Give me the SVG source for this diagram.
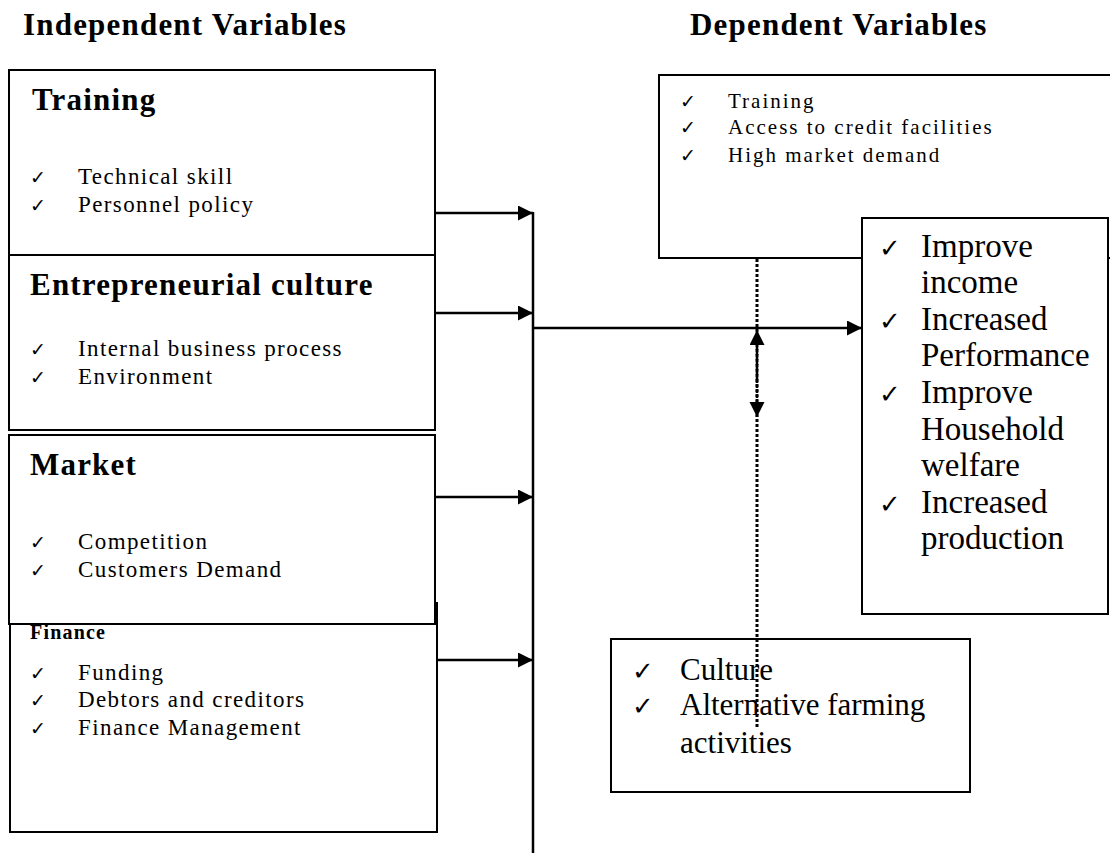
<svg xmlns="http://www.w3.org/2000/svg" width="1110" height="853" viewBox="0 0 1110 853">
<style>
.box{fill:#fff;stroke:#000;stroke-width:2}
.hdr{font-family:'Liberation Serif',serif;font-weight:bold;font-size:31px;letter-spacing:1.2px;fill:#000}
.title{font-family:'Liberation Serif',serif;font-weight:bold;font-size:31px;letter-spacing:1.2px;fill:#000}
.ftitle{font-family:'Liberation Serif',serif;font-weight:bold;font-size:20px;letter-spacing:1.2px;fill:#000}
.item{font-family:'Liberation Serif',serif;font-size:23px;letter-spacing:1.4px;fill:#000}
.sitem{font-family:'Liberation Serif',serif;font-size:21px;letter-spacing:2px;fill:#000}
.big{font-family:'Liberation Serif',serif;font-size:33px;fill:#000}
.chk{font-family:'DejaVu Sans',sans-serif;font-size:19px;fill:#000}
.bchk{font-family:'DejaVu Sans',sans-serif;font-size:26px;fill:#000}
.ln{stroke:#000;stroke-width:2.5;fill:none}
.dot{stroke:#000;stroke-width:3;stroke-dasharray:3 2;fill:none}
</style>
<defs>
<marker id="ah" markerUnits="userSpaceOnUse" markerWidth="16" markerHeight="16" refX="15" refY="7.5" orient="auto">
<path d="M0,0 L15,7.5 L0,15 z" fill="#000"/>
</marker>
</defs>

<text class="hdr" x="23" y="35">Independent Variables</text>
<text class="hdr" x="690" y="35">Dependent Variables</text>

<g id="training">
<rect class="box" x="9" y="70" width="426" height="185"/>
<text class="title" x="32" y="110">Training</text>
<text class="chk" x="30" y="184">✓</text><text class="item" x="78" y="184">Technical skill</text>
<text class="chk" x="30" y="212">✓</text><text class="item" x="78" y="212">Personnel policy</text>
</g>

<g id="entrepreneurial">
<rect class="box" x="9" y="255" width="426" height="175"/>
<text class="title" x="30" y="295">Entrepreneurial culture</text>
<text class="chk" x="30" y="356">✓</text><text class="item" x="78" y="356">Internal business process</text>
<text class="chk" x="30" y="384">✓</text><text class="item" x="78" y="384">Environment</text>
</g>

<g id="finance">
<rect class="box" x="10" y="603" width="427" height="229"/>
<text class="ftitle" x="30" y="639">Finance</text>
<text class="chk" x="30" y="680">✓</text><text class="item" x="78" y="680">Funding</text>
<text class="chk" x="30" y="707">✓</text><text class="item" x="78" y="707">Debtors and creditors</text>
<text class="chk" x="30" y="735">✓</text><text class="item" x="78" y="735">Finance Management</text>
</g>

<g id="market">
<rect class="box" x="9" y="435" width="426" height="189"/>
<text class="title" x="30" y="475">Market</text>
<text class="chk" x="30" y="549">✓</text><text class="item" x="78" y="549">Competition</text>
<text class="chk" x="30" y="577">✓</text><text class="item" x="78" y="577">Customers Demand</text>
</g>

<g id="moderators">
<rect class="box" x="659" y="75" width="470" height="183"/>
<text class="chk" x="680" y="108">✓</text><text class="sitem" x="728" y="108">Training</text>
<text class="chk" x="680" y="134">✓</text><text class="sitem" x="728" y="134">Access to credit facilities</text>
<text class="chk" x="680" y="162">✓</text><text class="sitem" x="728" y="162">High market demand</text>
</g>

<g id="outcomes">
<rect class="box" x="862" y="218" width="246" height="396"/>
<text class="bchk" x="879" y="257">✓</text><text class="big" x="921" y="257">Improve</text>
<text class="big" x="921" y="293">income</text>
<text class="bchk" x="879" y="330">✓</text><text class="big" x="921" y="330">Increased</text>
<text class="big" x="921" y="366">Performance</text>
<text class="bchk" x="879" y="403">✓</text><text class="big" x="921" y="403">Improve</text>
<text class="big" x="921" y="440">Household</text>
<text class="big" x="921" y="476">welfare</text>
<text class="bchk" x="879" y="513">✓</text><text class="big" x="921" y="513">Increased</text>
<text class="big" x="921" y="549">production</text>
</g>

<g id="intervening">
<rect class="box" x="611" y="639" width="359" height="153"/>
<text class="bchk" x="632" y="680">✓</text><text class="big" x="680" y="680" style="font-size:31px">Culture</text>
<text class="bchk" x="632" y="715">✓</text><text class="big" x="680" y="715" style="font-size:31px">Alternative farming</text>
<text class="big" x="680" y="753" style="font-size:31px">activities</text>
</g>

<g id="connectors">
<line class="ln" x1="533" y1="212" x2="533" y2="853"/>
<line class="ln" x1="435" y1="213" x2="533" y2="213" marker-end="url(#ah)"/>
<line class="ln" x1="435" y1="313" x2="533" y2="313" marker-end="url(#ah)"/>
<line class="ln" x1="435" y1="497" x2="533" y2="497" marker-end="url(#ah)"/>
<line class="ln" x1="437" y1="660" x2="533" y2="660" marker-end="url(#ah)"/>
<line class="ln" x1="533" y1="328" x2="862" y2="328" marker-end="url(#ah)"/>
<line class="dot" x1="757" y1="259" x2="757" y2="728"/>
<line class="ln" x1="757" y1="380" x2="757" y2="330" marker-end="url(#ah)" stroke-dasharray="3 2"/>
<line class="ln" x1="757" y1="380" x2="757" y2="417" marker-end="url(#ah)" stroke-dasharray="3 2"/>
</g>
</svg>
